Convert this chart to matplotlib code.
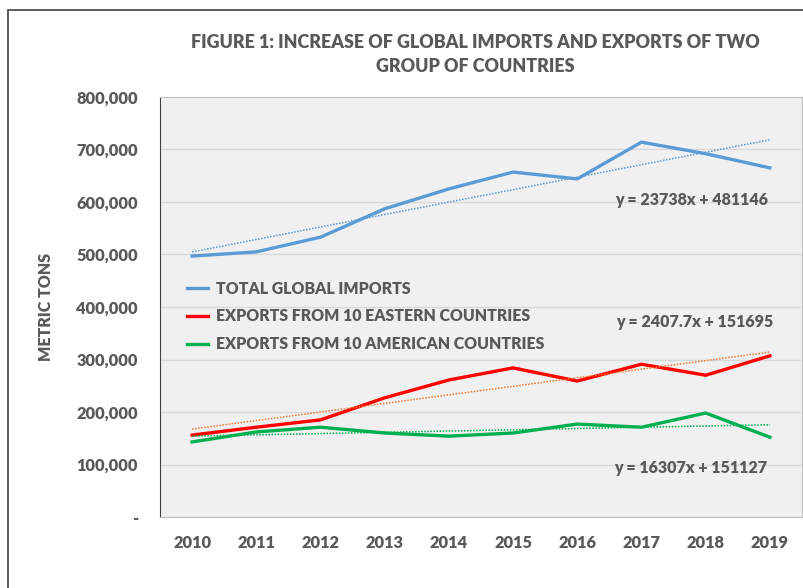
import numpy as np
import matplotlib
matplotlib.use("Agg")
import matplotlib.pyplot as plt
from matplotlib.patches import Rectangle

# data
years = [2010, 2011, 2012, 2013, 2014, 2015, 2016, 2017, 2018, 2019]
imports = [497000, 505000, 533000, 587000, 625000, 657000, 644000, 714000, 692000, 665000]
eastern = [156000, 171000, 185000, 227000, 261000, 284000, 259000, 291000, 270000, 307000]
american = [143000, 162000, 171000, 160000, 154000, 160000, 177000, 171000, 198000, 152000]

# trendline equations shown on the chart (x = 1..10)
trend_imports = (23738, 481146)
trend_eastern = (16307, 151127)
trend_american = (2407.7, 151695)

yticks = [0, 100000, 200000, 300000, 400000, 500000, 600000, 700000, 800000]
ytick_labels = ["-", "100,000", "200,000", "300,000", "400,000",
                "500,000", "600,000", "700,000", "800,000"]

plt.rcParams["font.family"] = ["Lato", "DejaVu Sans"]
txt = "#595959"
wt = "heavy"

fig = plt.figure(figsize=(8.04, 5.88), dpi=100)
fig.patches.append(Rectangle((8 / 804, -0.05), 1.1, 1 - 10 / 588 + 0.05,
                             transform=fig.transFigure, fill=False,
                             edgecolor="#404040", linewidth=1.2))

ax = fig.add_axes([160 / 804, 71 / 588, 642 / 804, 420 / 588])
ax.set_facecolor("#f0f0f0")

idx = np.arange(1, len(years) + 1)
ax.plot(years, imports, color="#5B9BD5", lw=2.4, label="TOTAL GLOBAL IMPORTS")
ax.plot(years, eastern, color="#FF0000", lw=2.4, label="EXPORTS FROM 10 EASTERN COUNTRIES")
ax.plot(years, american, color="#00B050", lw=2.4, label="EXPORTS FROM 10 AMERICAN COUNTRIES")

ax.plot(years, trend_imports[0] * idx + trend_imports[1], color="#5B9BD5", lw=1.1, ls=(0, (1, 1)))
ax.plot(years, trend_eastern[0] * idx + trend_eastern[1], color="#ED7D31", lw=1.1, ls=(0, (1, 1)))
ax.plot(years, trend_american[0] * idx + trend_american[1], color="#00B050", lw=1.1, ls=(0, (1, 1)))

ax.text(2018.97, 603000, "y = 23738x + 481146", ha="right", va="center",
        fontsize=11.5, fontweight=wt, color=txt)
ax.text(2019.05, 371000, "y = 2407.7x + 151695", ha="right", va="center",
        fontsize=11.5, fontweight=wt, color=txt)
ax.text(2018.95, 93000, "y = 16307x + 151127", ha="right", va="center",
        fontsize=11.5, fontweight=wt, color=txt)

ax.set_xlim(2009.5, 2019.5)
ax.set_ylim(0, 800000)
ax.set_xticks(years)
ax.set_xticklabels([str(y) for y in years])
ax.set_yticks(yticks)
ax.set_yticklabels(ytick_labels)
ax.tick_params(length=0, labelsize=11.8, labelcolor=txt)
ax.tick_params(axis="x", pad=13)
ax.tick_params(axis="y", pad=16)
for lab in ax.get_xticklabels() + ax.get_yticklabels():
    lab.set_fontweight(wt)

ax.grid(axis="y", color="#d9d9d9", lw=1)
ax.set_axisbelow(True)
for s in ax.spines.values():
    s.set_color("#bfbfbf")
ax.spines["left"].set_color("#404040")

ax.set_ylabel("METRIC TONS", fontsize=11.5, fontweight=wt, color=txt)
ax.yaxis.set_label_coords(-0.165, 0.5)

fig.text(475 / 804, 1 - 55 / 588,
         "FIGURE 1: INCREASE OF GLOBAL IMPORTS AND EXPORTS OF TWO\nGROUP OF COUNTRIES",
         ha="center", va="center", fontsize=12.9, fontweight=wt, color=txt,
         linespacing=1.5)

leg = ax.legend(loc="upper left", bbox_to_anchor=(0.02, 0.597), frameon=False,
                fontsize=11.4, handlelength=1.35, labelspacing=0.75, handletextpad=0.5)
for t in leg.get_texts():
    t.set_color(txt)
    t.set_fontweight(wt)

fig.savefig("out.png", dpi=100)
